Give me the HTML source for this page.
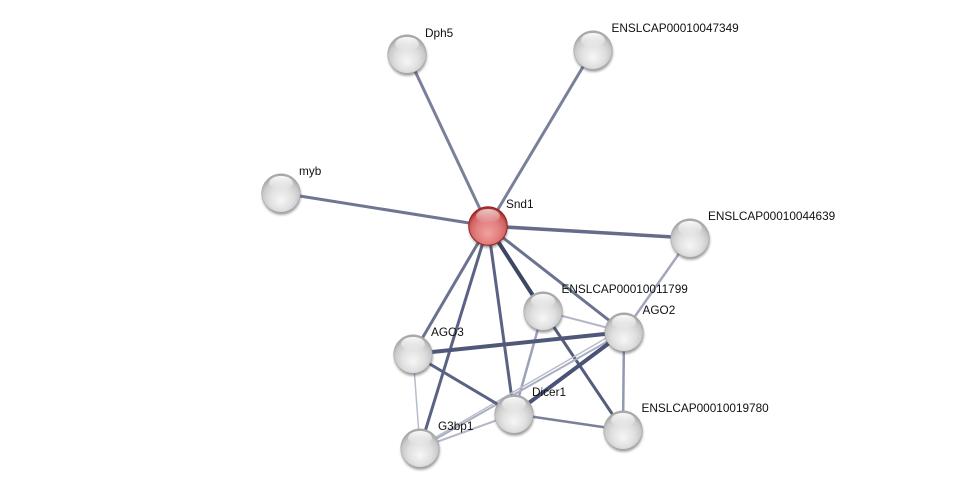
<!DOCTYPE html>
<html>
<head>
<meta charset="utf-8">
<style>
  html,body{margin:0;padding:0;background:#fff;}
  body{width:975px;height:493px;overflow:hidden;}
  svg{display:block;}
  text{font-family:"Liberation Sans",Arial,sans-serif;font-size:11.8px;fill:#111;}
</style>
</head>
<body>
<svg width="975" height="493" viewBox="0 0 975 493" xmlns="http://www.w3.org/2000/svg">
  <defs>
    <radialGradient id="gray" cx="50%" cy="60%" r="55%" fx="50%" fy="70%">
      <stop offset="0" stop-color="#f6f6f6"/>
      <stop offset="0.55" stop-color="#e0e0e0"/>
      <stop offset="0.85" stop-color="#c9c9c9"/>
      <stop offset="1" stop-color="#a9a9a9"/>
    </radialGradient>
    <radialGradient id="red" cx="50%" cy="60%" r="55%" fx="50%" fy="70%">
      <stop offset="0" stop-color="#f2a0a0"/>
      <stop offset="0.55" stop-color="#e28080"/>
      <stop offset="0.85" stop-color="#d06060"/>
      <stop offset="1" stop-color="#a83030"/>
    </radialGradient>
    <linearGradient id="hl" x1="0" y1="0" x2="0" y2="1">
      <stop offset="0" stop-color="#fff" stop-opacity="0.95"/>
      <stop offset="1" stop-color="#fff" stop-opacity="0"/>
    </linearGradient>
    <filter id="blur" x="-50%" y="-50%" width="200%" height="200%">
      <feGaussianBlur stdDeviation="1.2"/>
    </filter>
    <g id="gnode">
      <circle cx="0.5" cy="2.5" r="19.3" fill="#3a3a3a" opacity="0.5" filter="url(#blur)"/>
      <circle cx="0" cy="0" r="19.3" fill="url(#gray)" stroke="#a5a5a5" stroke-width="0.5"/>
      <ellipse cx="0" cy="-10" rx="12" ry="7" fill="url(#hl)"/>
    </g>
    <g id="rnode">
      <circle cx="0.5" cy="2.5" r="19.3" fill="#3a3a3a" opacity="0.5" filter="url(#blur)"/>
      <circle cx="0" cy="0" r="19.3" fill="url(#red)" stroke="#9a2222" stroke-width="1"/>
      <ellipse cx="0" cy="-10" rx="12" ry="7" fill="url(#hl)" opacity="0.75"/>
    </g>
  </defs>

  <!-- edges -->
  <g stroke-linecap="butt" fill="none">
    <line x1="488" y1="226" x2="407" y2="54" stroke="#7a8099" stroke-width="3"/>
    <line x1="488" y1="226" x2="593" y2="50" stroke="#7a8099" stroke-width="3"/>
    <line x1="488" y1="226" x2="281" y2="193" stroke="#6f7691" stroke-width="3"/>
    <line x1="488" y1="226" x2="690" y2="238" stroke="#656c8a" stroke-width="3.5"/>
    <line x1="488" y1="226" x2="543" y2="311" stroke="#3e4666" stroke-width="4"/>
    <line x1="488" y1="226" x2="624" y2="332" stroke="#6b7290" stroke-width="3"/>
    <line x1="488" y1="226" x2="413" y2="354" stroke="#6b7290" stroke-width="3"/>
    <line x1="488" y1="226" x2="420" y2="448" stroke="#5a6385" stroke-width="3"/>
    <line x1="488" y1="226" x2="514" y2="414" stroke="#5a6385" stroke-width="3"/>
    <line x1="690" y1="238" x2="624" y2="332" stroke="#a2a7ba" stroke-width="2.5"/>
    <line x1="543" y1="311" x2="624" y2="332" stroke="#b3b7c7" stroke-width="2"/>
    <line x1="543" y1="311" x2="514" y2="414" stroke="#9ca2b7" stroke-width="2.5"/>
    <line x1="543" y1="311" x2="623" y2="430" stroke="#555c7c" stroke-width="3"/>
    <line x1="413" y1="354" x2="624" y2="332" stroke="#4f5879" stroke-width="4"/>
    <line x1="420" y1="448" x2="624" y2="332" stroke="#a9aec1" stroke-width="2"/>
    <line x1="424" y1="444" x2="620" y2="330" stroke="#b9bdcc" stroke-width="1.5"/>
    <line x1="514" y1="414" x2="624" y2="332" stroke="#4a5375" stroke-width="4"/>
    <line x1="624" y1="332" x2="623" y2="430" stroke="#9198b0" stroke-width="2.5"/>
    <line x1="413" y1="354" x2="514" y2="414" stroke="#5a6385" stroke-width="3"/>
    <line x1="413" y1="354" x2="420" y2="448" stroke="#b8bccb" stroke-width="1.5"/>
    <line x1="514" y1="414" x2="623" y2="430" stroke="#7a8099" stroke-width="2.5"/>
    <line x1="514" y1="414" x2="420" y2="448" stroke="#b3b7c7" stroke-width="2"/>
  </g>

  <!-- nodes -->
  <use href="#gnode" x="407" y="54"/>
  <use href="#gnode" x="593" y="50"/>
  <use href="#gnode" x="281" y="193"/>
  <use href="#gnode" x="690" y="238"/>
  <use href="#gnode" x="543" y="311"/>
  <use href="#gnode" x="624" y="332"/>
  <use href="#gnode" x="413" y="354"/>
  <use href="#gnode" x="514" y="414"/>
  <use href="#gnode" x="623" y="430"/>
  <use href="#gnode" x="420" y="448"/>
  <use href="#rnode" x="488" y="226"/>

  <!-- labels -->
  <text x="425" y="37">Dph5</text>
  <text x="611.5" y="32">ENSLCAP00010047349</text>
  <text x="299" y="175">myb</text>
  <text x="506" y="208">Snd1</text>
  <text x="708" y="220">ENSLCAP00010044639</text>
  <text x="561.5" y="293">ENSLCAP00010011799</text>
  <text x="642.5" y="314">AGO2</text>
  <text x="431" y="336">AGO3</text>
  <text x="532" y="396">Dicer1</text>
  <text x="641.5" y="412">ENSLCAP00010019780</text>
  <text x="438" y="430">G3bp1</text>
</svg>
</body>
</html>
